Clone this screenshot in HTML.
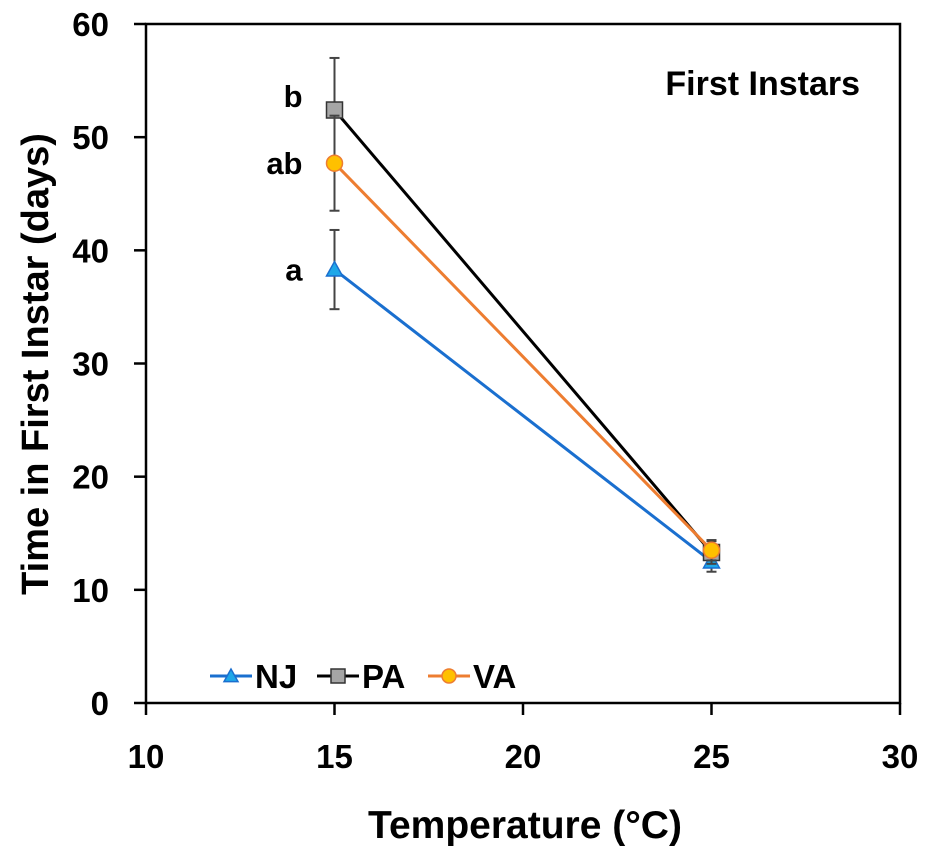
<!DOCTYPE html>
<html><head><meta charset="utf-8"><style>
html,body{margin:0;padding:0;background:#fff;}
svg{display:block;font-family:"Liberation Sans",Arial,sans-serif;font-weight:bold;}
</style></head><body>
<svg id="chart" width="933" height="853" viewBox="0 0 933 853"></svg>
<script>
const temps=[15,25];
const seriesNames=["NJ","PA","VA"];
const njVals=[38.3,12.5];
const paVals=[52.4,13.3];
const vaVals=[47.7,13.5];
const njErr=[3.5,0.9];
const paErr=[4.6,1.0];
const vaErr=[4.2,0.9];
const letters=["a","b","ab"];
const xTicks=[10,15,20,25,30];
const yTicks=[0,10,20,30,40,50,60];

const NS="http://www.w3.org/2000/svg";
const svg=document.getElementById('chart');
const X0=146,X1=900,Y0=703,Y1=24;
const xs=v=>X0+(v-10)/20*(X1-X0);
const ys=v=>Y0-(v/60)*(Y0-Y1);
function mk(tag,attrs,parent){const e=document.createElementNS(NS,tag);for(const k in attrs)e.setAttribute(k,attrs[k]);(parent||svg).appendChild(e);return e;}

let e;
e=mk('rect',{x:X0,y:Y1,width:X1-X0,height:Y0-Y1,fill:'none',stroke:'#000','stroke-width':2.5});


yTicks.forEach(t=>{
  e=mk('line',{x1:X0-12,y1:ys(t),x2:X0,y2:ys(t),stroke:'#000','stroke-width':2.5});
  
  
  e=mk('text',{x:X0-37,y:ys(t)+12,'text-anchor':'end','font-size':33});
  e.textContent=t;
  
  
});
xTicks.forEach(t=>{
  e=mk('line',{x1:xs(t),y1:Y0,x2:xs(t),y2:Y0+12,stroke:'#000','stroke-width':2.5});
  
  
  e=mk('text',{x:xs(t),y:Y0+65,'text-anchor':'middle','font-size':33});
  e.textContent=t;
  
  
});
e=mk('text',{x:525,y:838,'text-anchor':'middle','font-size':39});
e.textContent='Temperature (°C)';


e=mk('text',{x:0,y:0,'text-anchor':'middle','font-size':38,transform:'translate(48,364) rotate(-90)'});
e.textContent='Time in First Instar (days)';


e=mk('text',{x:860,y:95,'text-anchor':'end','font-size':34});
e.textContent='First Instars';



const series=[
 {name:seriesNames[0],vals:njVals,err:njErr,color:'#1a6fcf',fill:'#1ea7e8',shape:'tri'},
 {name:seriesNames[1],vals:paVals,err:paErr,color:'#000',fill:'#a6a6a6',shape:'sq'},
 {name:seriesNames[2],vals:vaVals,err:vaErr,color:'#ed7d31',fill:'#ffc000',shape:'circ'}
];
function marker(g,shape,x,y,s,color,fill){
  let m;
  if(shape==='tri') m=mk('polygon',{points:`${x},${y-s} ${x-s},${y+s*0.8} ${x+s},${y+s*0.8}`,fill:fill,stroke:'#1a6fcf','stroke-width':1.5},g);
  else if(shape==='sq') m=mk('rect',{x:x-s,y:y-s,width:2*s,height:2*s,fill:fill,stroke:'#333','stroke-width':1.5},g);
  else m=mk('circle',{cx:x,cy:y,r:s,fill:fill,stroke:'#ed7d31','stroke-width':1.5},g);
  return m;
}
series.forEach((s,si)=>{
  const g=mk('g',{});
  
  
  temps.forEach((t,i)=>{
    const x=xs(t);
    e=mk('line',{x1:x,y1:ys(s.vals[i]+s.err[i]),x2:x,y2:ys(s.vals[i]-s.err[i]),stroke:'#444','stroke-width':2},g);
    
    
    [s.vals[i]+s.err[i],s.vals[i]-s.err[i]].forEach(v=>{
      e=mk('line',{x1:x-5,y1:ys(v),x2:x+5,y2:ys(v),stroke:'#444','stroke-width':2},g);
      
      
    });
  });
  e=mk('polyline',{points:temps.map((t,i)=>xs(t)+','+ys(s.vals[i])).join(' '),fill:'none',stroke:s.color,'stroke-width':3},g);
  
  
  s.g=g;
});
series.forEach(s=>{
  temps.forEach((t,i)=>{
    e=marker(s.g,s.shape,xs(t),ys(s.vals[i]),8,s.color,s.fill);
    
    
  });
});
series.forEach((s,si)=>{
  e=mk('text',{x:xs(temps[0])-32,y:ys(s.vals[0])+(si===1?-3:11),'text-anchor':'end','font-size':31});
  e.textContent=letters[si];
  
  
});
const lg=mk('g',{});


const legX=[210,317,428];
series.forEach((s,i)=>{
  const g=mk('g',{},lg);
  
  
  const x=legX[i],y=676;
  mk('line',{x1:x,y1:y,x2:x+42,y2:y,stroke:s.color,'stroke-width':3},g);
  marker(g,s.shape,x+21,y,7,s.color,s.fill);
  const t=mk('text',{x:x+45,y:y+12,'font-size':33},g);
  t.textContent=s.name;
});
</script>
</body></html>
